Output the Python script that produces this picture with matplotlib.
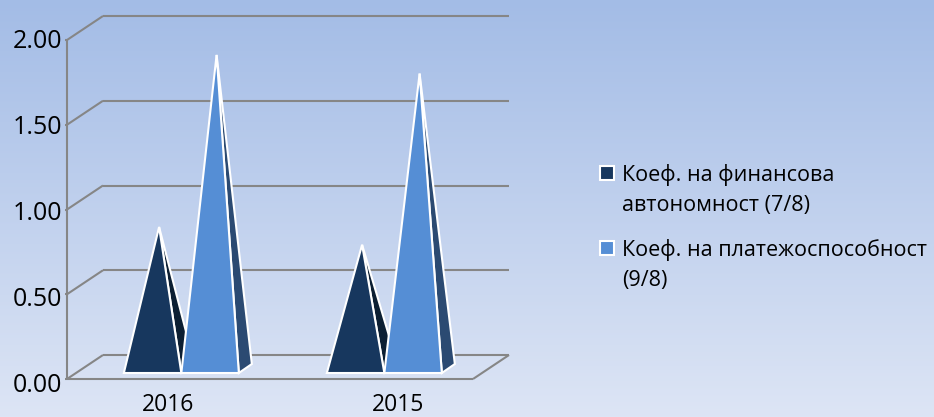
import numpy as np
import matplotlib
matplotlib.use('Agg')
import matplotlib.pyplot as plt
from matplotlib.patches import Polygon, Rectangle

W, H = 934, 417

years = ['2016', '2015']
autonomy = [0.835, 0.73]
solvency = [1.85, 1.74]
y_ticks = [0.0, 0.5, 1.0, 1.5, 2.0]
legend_labels = ['Коеф. на финансова\nавтономност (7/8)', 'Коеф. на платежоспособност\n(9/8)']

FRONT = ['#17375E', '#558ED5']
SIDE = ['#0C1F33', '#2B4A72']
GRID = '#868686'

plt.rcParams['font.family'] = ['Open Sans', 'DejaVu Sans']

fig = plt.figure(figsize=(W / 100, H / 100), dpi=100)

# background gradient
bg = fig.add_axes([0, 0, 1, 1])
top = np.array([163, 188, 230]) / 255
bottom = np.array([221, 229, 245]) / 255
t = np.linspace(0, 1, H)[:, None, None]
bg.imshow(top + (bottom - top) * t * np.ones((H, 2, 3)), aspect='auto')
bg.axis('off')

# value axes: one unit on x is a category, one unit on y is a value
left, right, y0, y2 = 67, 473, 379, 40
ax = fig.add_axes([left / W, 1 - y0 / H, (right - left) / W, (y0 - y2) / H])
ax.set_xlim(0, len(years))
ax.set_ylim(0, 2)
ax.patch.set_alpha(0)
ax.axis('off')

px_x = len(years) / (right - left)
px_y = 2 / (y0 - y2)
wall_dx, wall_dy = 36 * px_x, 24 * px_y
bar_dx, bar_dy = 13 * px_x, 9 * px_y
bar_w = 57.5 * px_x
bar_start = 0.28
base_y = 6 * px_y


def gridline(x, y):
    ax.plot(x, y, color=GRID, lw=1.5, clip_on=False, solid_capstyle='butt', zorder=1)


n = len(years)
for v in y_ticks:
    gridline([0, wall_dx], [v, v + wall_dy])
    gridline([wall_dx, n + wall_dx], [v + wall_dy, v + wall_dy])
    gridline([-2 * px_x, 0], [v, v])
    # labels are spread a little wider than the axis in the source chart
    ax.text(-5 * px_x, (v * 172 - 6) * px_y, f'{v:.2f}', ha='right', va='center',
            fontsize=18, color='black')
gridline([0, 0], [0, 2])
gridline([0, n], [0, 0])
gridline([n, n + wall_dx], [0, wall_dy])


def pyramid(x, value, k):
    ax_y = base_y
    apex = (x + bar_w / 2 + bar_dx / 2, ax_y + bar_dy / 2 + value)
    side = [(x + bar_w, ax_y), (x + bar_w + bar_dx, ax_y + bar_dy), apex]
    front = [(x, ax_y), (x + bar_w, ax_y), apex]
    for pts, col in ((side, SIDE[k]), (front, FRONT[k])):
        ax.add_patch(Polygon(pts, closed=True, fc=col, ec='white', lw=1.5,
                             joinstyle='miter', clip_on=False, zorder=3 + k))


for i in range(n):
    pyramid(i + bar_start, autonomy[i], 0)
    pyramid(i + bar_start + bar_w, solvency[i], 1)

# the category labels do not sit evenly in the source chart
label_x = [168, 398]
for xp, year in zip(label_x, years):
    fig.text(xp / W, 1 - 411 / H, year, ha='center', va='baseline', fontsize=16.5, color='black')

# legend
for k, (label, ys, yb) in enumerate(zip(legend_labels, (190, 265), (180, 255))):
    fig.add_artist(Rectangle((600 / W, 1 - yb / H), 14 / W, 14 / H, fc=FRONT[k], ec='white',
                             lw=1.5, transform=fig.transFigure))
    fig.text(622 / W, 1 - ys / H, label, ha='left', va='center', fontsize=15.5,
             linespacing=1.58, color='black')

fig.savefig('out.png', dpi=100)
